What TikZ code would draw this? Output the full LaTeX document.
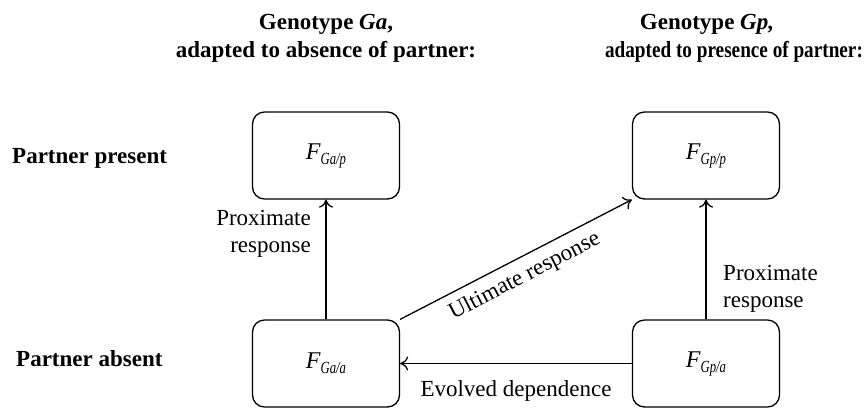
\documentclass[tikz,border=0pt]{standalone}
\usepackage{fontspec}
\setmainfont{Liberation Serif}
\usetikzlibrary{arrows.meta}
\newcommand\fsubl[1]{{\itshape F}\raisebox{-5pt}{\fontsize{17}{20}\selectfont\itshape\scalebox{0.75}[1]{#1}}}
\begin{document}
\begin{tikzpicture}[x=1pt,y=-1pt,
  box/.style={draw, line width=1.3pt, rounded corners=12pt, minimum width=147pt, minimum height=87pt, inner sep=0pt, font=\fontsize{24}{28}\selectfont},
  lbl/.style={font=\fontsize{23}{27}\selectfont, inner sep=2pt},
  hdr/.style={font=\fontsize{23}{27}\selectfont\bfseries, inner sep=0pt},
  arr/.style={line width=1.3pt, -{To[length=8pt,width=14pt]}}]
\useasboundingbox (0,0) rectangle (866,408);
% headers
\node[hdr, anchor=base] (h1a) at (326,29) {Genotype \textit{Ga},};
\node[hdr, anchor=base] (h1b) at (326,57) {adapted to absence of partner:};
\node[hdr, anchor=base] (h2a) at (707,29) {Genotype \textit{Gp,}};
\node[hdr, anchor=base] (h2b) at (734,57) {\scalebox{0.835}[1]{adapted to presence of partner:}};
% row labels
\node[hdr, anchor=base west] (rp) at (12,163) {Partner present};
\node[hdr, anchor=base west] (ra) at (16,366) {Partner absent};
% boxes
\node[box] (gap) at (326,155.5) {\fsubl{Ga/p}};
\node[box] (gpp) at (706,155.5) {\fsubl{Gp/p}};
\node[box] (gaa) at (326,363.5) {\fsubl{Ga/a}};
\node[box] (gpa) at (706,363.5) {\fsubl{Gp/a}};
% connectors
\draw[arr] (gaa) -- (gap);
\draw[arr] (gpa) -- (gpp);
\draw[arr] (gaa.north east) -- node[lbl, sloped, pos=0.5, below=6pt] (ult) {Ultimate response} (gpp.south west);
\draw[arr] (gpa) -- node[lbl, below=14pt] (evo) {Evolved dependence} (gaa);
% proximate labels
\node[lbl, align=right, anchor=base east] (px1) at (313,252) {Proximate\\response};
\node[lbl, align=left, anchor=base west] (px2) at (721,307) {Proximate\\response};
\end{tikzpicture}
\end{document}
